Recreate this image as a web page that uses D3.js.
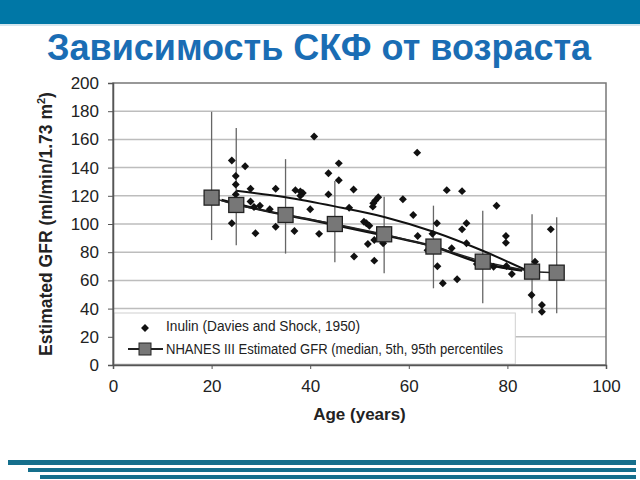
<!DOCTYPE html>
<html><head><meta charset="utf-8">
<script src="https://cdn.jsdelivr.net/npm/d3@7"></script>
<style>body{margin:0;background:#fff}svg{display:block}</style>
</head><body><div id="chart"></div>
<script>
// inulin points (age, GFR)
var inulinAge = [24.1,26.8,24.9,24.9,27.9,24.9,33.0,37.0,38.0,38.5,38.0,27.9,28.6,29.8,31.8,40.0,40.8,43.7,43.7,45.8,45.8,48.8,47.9,24.1,28.9,33.0,36.8,41.8,51.4,50.9,52.0,51.7,53.0,54.3,54.8,48.9,53.0,52.8,53.2,53.8,52.7,61.7,58.8,60.9,67.7,70.8,77.8,61.8,64.8,65.7,71.7,70.8,71.7,63.8,68.7,65.8,66.9,69.8,73.8,77.2,79.8,80.9,85.6,84.9,87.0,87.0,79.7,79.7,88.8];
var inulinGFR = [145,141,134,128,125,121,125,124,123,122,120,116,112,113,110.5,110.5,162,136,121,143,131,124.5,111.5,100.5,93.5,98,95,93,100.5,101.6,98.8,85.8,88.7,89,86.3,77,74,114.7,116.6,119,112.3,150.6,117.5,106.4,124,123.3,113,91.5,93,100.5,100.5,96.2,86.3,81.3,82.8,70,58,60.8,71.6,69.7,70.2,64.5,73.3,49.6,42.5,37.8,91.5,86.7,96.2];
// NHANES III median with 5th / 95th percentiles
var nhAge = [20,25,35,45,55,65,75,85,90];
var nhMed = [118.7,113.5,106.4,100,92.7,84,73.3,66.2,65.5];
var nhP5  = [88.6,85,79,72.8,65,54.4,43.8,36.7,36.7];
var nhP95 = [179.6,168,146,130.5,119.4,113,109.4,107,104.7];
// regression curves
var upAge = [25,35,45,55,65,75,84];
var upGFR = [123.5,119,112.5,105,94.5,81,67];
var loAge = [22,30,40,51.5,65,75,83];
var loGFR = [117,110,103,94.5,84,72,67];
var xTicks = [0,20,40,60,80,100];
var yTicks = [0,20,40,60,80,100,120,140,160,180,200];

var W = 640, H = 480;
var font = 'Liberation Sans, Arial, sans-serif';
var svg = d3.select('#chart').append('svg').attr('width', W).attr('height', H);

// header bar
svg.append('rect').attr('x',0).attr('y',0).attr('width',W).attr('height',24).attr('fill','#0077a6');
svg.append('rect').attr('x',0).attr('y',24).attr('width',W).attr('height',2).attr('fill','#d5e6ee');

svg.append('text').attr('x',319).attr('y',60).attr('text-anchor','middle')
  .style('font-family',font).style('font-weight','bold')
  .style('font-size','36px').attr('fill','#1a6db4').text('Зависимость СКФ от возраста');

var pl = 113, pr = 606, pt = 83, pb = 365;
var x = d3.scaleLinear().domain([0,100]).range([pl,pr]);
var y = d3.scaleLinear().domain([0,200]).range([pb,pt]);

// grid
svg.append('g').selectAll('line').data(yTicks.slice(1,-1)).enter().append('line')
  .attr('x1',pl).attr('x2',pr).attr('y1',function(d){return y(d)}).attr('y2',function(d){return y(d)})
  .attr('stroke','#bdbdbd').attr('stroke-width',1.5);

// legend box (covers grid)
svg.append('rect').attr('x',x(0)+1).attr('y',313).attr('width',x(81.4)-x(0)).attr('height',pb-313-1)
  .attr('fill','#fff').attr('stroke','#d0d0d0').attr('stroke-width',1);

// frame
svg.append('rect').attr('x',pl).attr('y',pt).attr('width',pr-pl).attr('height',pb-pt)
  .attr('fill','none').attr('stroke','#777').attr('stroke-width',1.5);

// axes
var yAxis = svg.append('g').attr('transform','translate('+pl+',0)')
  .call(d3.axisLeft(y).tickValues(yTicks).tickSizeOuter(0).tickSize(5).tickPadding(9));
var xAxis = svg.append('g').attr('transform','translate(0,'+pb+')')
  .call(d3.axisBottom(x).tickValues(xTicks).tickSizeOuter(0).tickSize(4).tickPadding(11));
[yAxis, xAxis].forEach(function(a){
  a.select('.domain').attr('stroke','#555').attr('stroke-width',1.5);
  a.selectAll('.tick line').attr('stroke','#555');
  a.selectAll('text').style('font-family',font).style('font-size','17px').attr('fill','#222');
});

var yl = svg.append('text').attr('transform','translate(52,224) rotate(-90)').attr('text-anchor','middle')
  .style('font-family',font).style('font-weight','bold').style('font-size','17.5px').attr('fill','#222');
yl.append('tspan').text('Estimated GFR (ml/min/1.73 m');
yl.append('tspan').attr('dy',-7).style('font-size','11px').text('2');
yl.append('tspan').attr('dy',7).text(')');

svg.append('text').attr('x',x(50)).attr('y',420).attr('text-anchor','middle')
  .style('font-family',font).style('font-weight','bold').style('font-size','17px').attr('fill','#222')
  .text('Age (years)');

// percentile whiskers
svg.append('g').selectAll('line').data(nhAge).enter().append('line')
  .attr('x1',function(d){return x(d)}).attr('x2',function(d){return x(d)})
  .attr('y1',function(d,i){return y(nhP5[i])}).attr('y2',function(d,i){return y(nhP95[i])})
  .attr('stroke','#666').attr('stroke-width',1.3);

// fitted curves
function curve(xs, ys){
  return d3.line().x(function(d){return x(d)}).y(function(d,i){return y(ys[i])}).curve(d3.curveMonotoneX)(xs);
}
svg.append('path').attr('d',curve(upAge,upGFR)).attr('fill','none').attr('stroke','#111').attr('stroke-width',2);
svg.append('path').attr('d',curve(loAge,loGFR)).attr('fill','none').attr('stroke','#111').attr('stroke-width',2.5);

// median line
svg.append('path').datum(nhAge).attr('d',d3.line().x(function(d){return x(d)}).y(function(d,i){return y(nhMed[i])}))
  .attr('fill','none').attr('stroke','#222').attr('stroke-width',1.5);

// inulin diamonds
var diamond = d3.symbol().type(d3.symbolDiamond2).size(40);
svg.append('g').selectAll('path').data(inulinAge).enter().append('path')
  .attr('d',diamond).attr('transform',function(d,i){return 'translate('+x(d)+','+y(inulinGFR[i])+')'})
  .attr('fill','#111');

// median squares
svg.append('g').selectAll('rect').data(nhAge).enter().append('rect')
  .attr('x',function(d){return x(d)-7.5}).attr('y',function(d,i){return y(nhMed[i])-7.5})
  .attr('width',15).attr('height',15).attr('fill','#777').attr('stroke','#222').attr('stroke-width',1.3);

// legend
var lg = svg.append('g').style('font-family',font).style('font-size','14px').attr('fill','#222');
lg.append('path').attr('d',diamond).attr('transform','translate(145,328)').attr('fill','#111');
lg.append('text').attr('x',166).attr('y',331).attr('textLength',194).attr('lengthAdjust','spacingAndGlyphs')
  .text('Inulin (Davies and Shock, 1950)');
lg.append('line').attr('x1',128).attr('x2',163).attr('y1',349).attr('y2',349).attr('stroke','#222').attr('stroke-width',2);
lg.append('rect').attr('x',139).attr('y',343).attr('width',12).attr('height',12).attr('fill','#777').attr('stroke','#222');
lg.append('text').attr('x',166).attr('y',354).attr('textLength',337).attr('lengthAdjust','spacingAndGlyphs')
  .text('NHANES III Estimated GFR (median, 5th, 95th percentiles');

// footer lines
svg.append('rect').attr('x',8).attr('y',460).attr('width',628).attr('height',5).attr('fill','#156f8c');
svg.append('rect').attr('x',28).attr('y',468).attr('width',608).attr('height',4).attr('fill','#156f8c');
svg.append('rect').attr('x',40).attr('y',475).attr('width',596).attr('height',4).attr('fill','#156f8c');
</script></body></html>
